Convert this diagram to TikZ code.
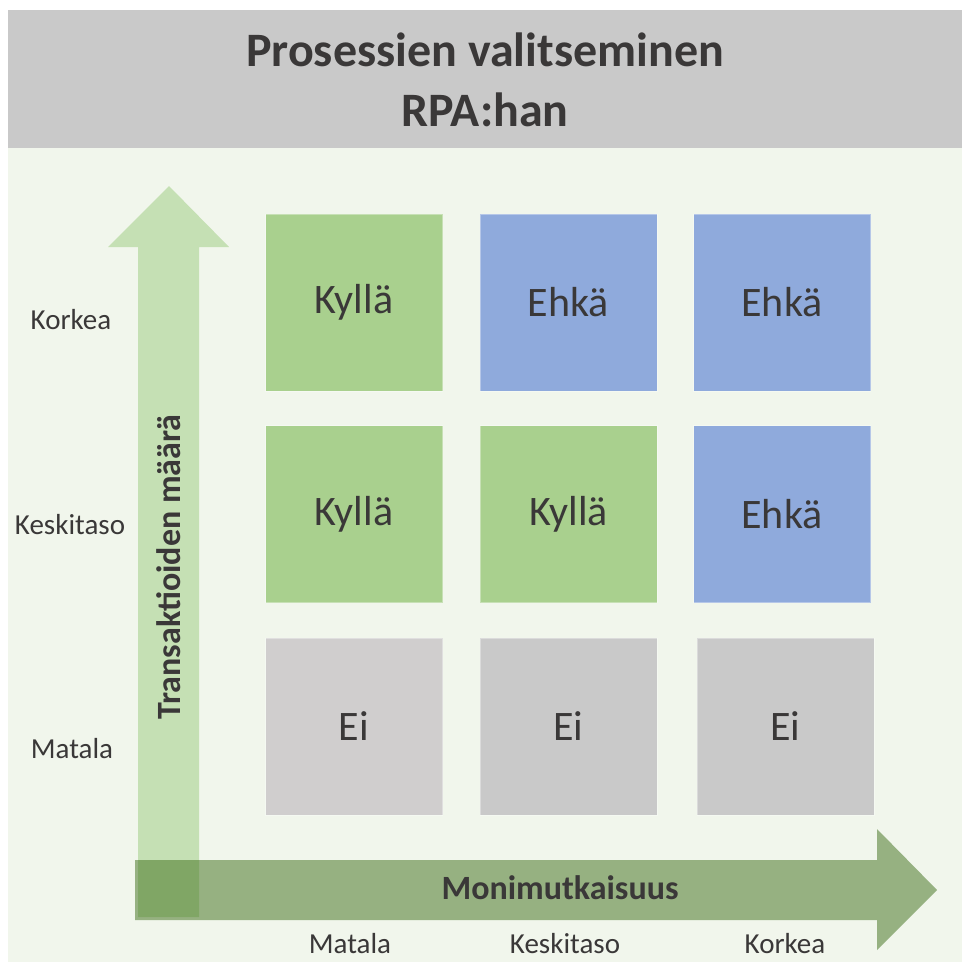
\documentclass[tikz,border=0pt]{standalone}
\usepackage{fontspec}
\setmainfont{Carlito}
\definecolor{panelbg}{HTML}{F1F6EC}
\definecolor{titlebg}{HTML}{C9C9C9}
\definecolor{inkgray}{HTML}{3A3838}
\definecolor{yesgreen}{HTML}{A9D08E}
\definecolor{maybeblue}{HTML}{8FAADC}
\definecolor{nogray}{HTML}{C9C9C9}
\definecolor{nogralight}{HTML}{D0CECE}
\definecolor{upgreen}{HTML}{C5E0B4}
\definecolor{rightgreen}{HTML}{3C6D18}
\tikzset{
  cell/.style={minimum width=177pt, minimum height=177pt, inner sep=0pt,
    draw=white, draw opacity=0.35, line width=0.6pt,
    text=inkgray, font=\fontsize{42}{50}\selectfont},
  ticklabel/.style={text=inkgray, inner sep=0pt, font=\fontsize{29}{34}\selectfont},
  axistitle/.style={text=inkgray, inner sep=0pt, font=\bfseries\fontsize{34}{40}\selectfont},
}
\begin{document}
\begin{tikzpicture}[x=1pt, y=-1pt]
  % page and panel
  \fill[white] (0,0) rectangle (962,962);
  \useasboundingbox (0,0) rectangle (962,962);
  \fill[panelbg] (8,148) rectangle (962,962);
  \fill[titlebg] (8,10) rectangle (962,148);
  \node[text=inkgray, align=center, inner sep=0pt,
        font=\bfseries\fontsize{48}{60}\selectfont] (title) at (485,80)
        {Prosessien valitseminen\\RPA:han};

  % vertical axis arrow
  \fill[upgreen] (138,917) -- (138,247) -- (108,247) -- (169,186)
        -- (229,247) -- (199,247) -- (199,917) -- cycle;
  % horizontal axis arrow (translucent, darker where it crosses the vertical one)
  \fill[rightgreen, fill opacity=0.5] (135,860) -- (877,860) -- (877,829)
        -- (937,890) -- (877,950) -- (877,920) -- (135,920) -- cycle;

  \node[axistitle, rotate=90] (ytitle) at (169,567) {Transaktioiden määrä};
  \node[axistitle] (xtitle) at (560,888) {Monimutkaisuus};

  % row labels
  \node[ticklabel] (yhigh) at (71,320) {Korkea};
  \node[ticklabel] (ymid)  at (70,525) {Keskitaso};
  \node[ticklabel] (ylow)  at (72,749) {Matala};
  % column labels
  \node[ticklabel] (xlow)  at (350,944) {Matala};
  \node[ticklabel] (xmid)  at (565,944) {Keskitaso};
  \node[ticklabel] (xhigh) at (785,944) {Korkea};

  % matrix cells
  \node[cell, fill=yesgreen]   (c11) at (354,302.5) {Kyllä};
  \node[cell, fill=maybeblue]  (c12) at (568.5,302.5) {Ehkä};
  \node[cell, fill=maybeblue]  (c13) at (782,302.5) {Ehkä};
  \node[cell, fill=yesgreen]   (c21) at (354,514) {Kyllä};
  \node[cell, fill=yesgreen]   (c22) at (568.5,514) {Kyllä};
  \node[cell, fill=maybeblue]  (c23) at (782,514) {Ehkä};
  \node[cell, fill=nogralight] (c31) at (354,726.5) {Ei};
  \node[cell, fill=nogray]     (c32) at (568.5,726.5) {Ei};
  \node[cell, fill=nogray]     (c33) at (785.5,726.5) {Ei};
\end{tikzpicture}
\end{document}
